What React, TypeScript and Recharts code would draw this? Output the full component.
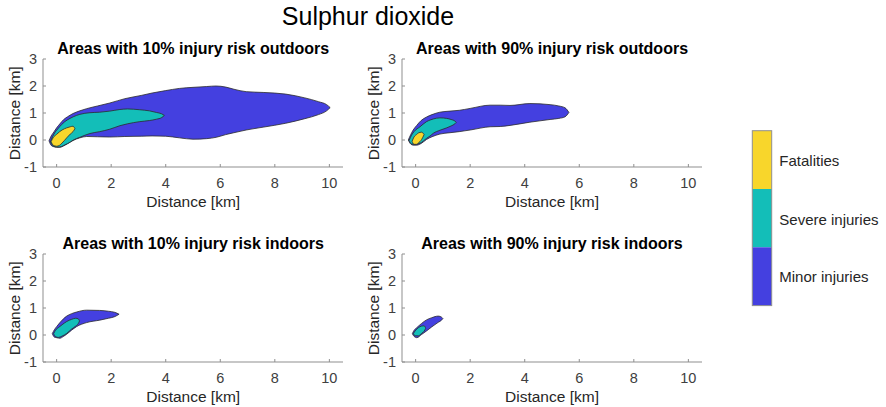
import React from 'react';
import { ComposedChart, Area, XAxis, YAxis } from 'recharts';

// ---- categories / ticks ----
const xTicks = [0, 2, 4, 6, 8, 10];
const yTicks = [-1, 0, 1, 2, 3];
const legendLabels = ['Fatalities', 'Severe injuries', 'Minor injuries'];
const panelTitles = [
  'Areas with 10% injury risk outdoors',
  'Areas with 90% injury risk outdoors',
  'Areas with 10% injury risk indoors',
  'Areas with 90% injury risk indoors',
];

// ---- series: [x, lower edge, upper edge] in km ----
const tlMinor = [
  [-0.28, -0.03, -0.03], [-0.2, -0.2, 0.15], [-0.1, -0.25, 0.3], [0, -0.27, 0.45],
  [0.12, -0.27, 0.6], [0.25, -0.22, 0.75], [0.4, -0.14, 0.86], [0.6, -0.02, 0.98],
  [0.85, 0.08, 1.08], [1.1, 0.13, 1.16], [1.5, 0.12, 1.26], [1.95, 0.11, 1.37],
  [2.5, 0.13, 1.53], [3.1, 0.14, 1.65], [3.5, 0.15, 1.74], [4.0, 0.14, 1.83],
  [4.5, 0.08, 1.91], [5.0, 0.03, 1.95], [5.5, 0.05, 1.98], [5.85, 0.1, 2.0],
  [6.2, 0.2, 1.96], [6.5, 0.27, 1.88], [6.95, 0.37, 1.79], [7.6, 0.48, 1.76],
  [8.4, 0.62, 1.7], [9.1, 0.79, 1.56], [9.6, 0.94, 1.42], [9.9, 1.08, 1.31],
  [10.03, 1.2, 1.2],
];
const tlSevere = [
  [-0.23, -0.07, -0.07], [-0.15, -0.2, 0.12], [-0.05, -0.25, 0.3], [0.05, -0.26, 0.42],
  [0.18, -0.24, 0.57], [0.3, -0.18, 0.68], [0.49, -0.08, 0.8], [0.61, 0.0, 0.86],
  [0.85, 0.1, 0.95], [1.22, 0.24, 1.01], [1.58, 0.31, 1.03], [1.95, 0.4, 1.07],
  [2.32, 0.53, 1.13], [2.6, 0.6, 1.15], [3.05, 0.68, 1.12], [3.4, 0.72, 1.08],
  [3.66, 0.77, 1.02], [3.85, 0.83, 0.97], [3.95, 0.91, 0.91],
];
const tlFatal = [
  [-0.2, -0.06, -0.06], [-0.13, -0.19, 0.08], [0, -0.23, 0.21], [0.1, -0.2, 0.3],
  [0.2, -0.11, 0.37], [0.37, 0.08, 0.45], [0.5, 0.22, 0.49], [0.6, 0.31, 0.51],
  [0.67, 0.42, 0.42],
];

const trMinor = [
  [-0.27, 0.0, 0.0], [-0.18, -0.15, 0.2], [-0.09, -0.19, 0.37], [0.04, -0.19, 0.54],
  [0.2, -0.13, 0.72], [0.4, 0.02, 0.85], [0.6, 0.12, 0.94], [0.89, 0.22, 1.03],
  [1.26, 0.27, 1.07], [1.6, 0.31, 1.1], [2.0, 0.37, 1.17], [2.73, 0.49, 1.29],
  [3.1, 0.5, 1.29], [3.46, 0.54, 1.28], [4.19, 0.66, 1.35], [4.93, 0.76, 1.31],
  [5.25, 0.8, 1.26], [5.48, 0.86, 1.19], [5.62, 1.02, 1.02],
];
const trSevere = [
  [-0.24, -0.02, -0.02], [-0.15, -0.15, 0.18], [-0.05, -0.16, 0.32], [0.16, -0.12, 0.49],
  [0.4, 0.06, 0.68], [0.53, 0.15, 0.74], [0.65, 0.25, 0.78], [0.89, 0.36, 0.82],
  [1.14, 0.45, 0.8], [1.3, 0.52, 0.76], [1.44, 0.6, 0.7], [1.49, 0.65, 0.65],
];
const trFatal = [
  [-0.13, -0.05, -0.05], [-0.06, -0.16, 0.11], [0.03, -0.16, 0.2], [0.1, -0.11, 0.26],
  [0.22, 0.02, 0.29], [0.31, 0.2, 0.2],
];

const blMinor = [
  [-0.16, 0.05, 0.05], [-0.08, -0.08, 0.2], [0, -0.1, 0.31], [0.12, -0.12, 0.46],
  [0.24, -0.06, 0.59], [0.37, 0.03, 0.7], [0.55, 0.18, 0.79], [0.73, 0.31, 0.85],
  [1.1, 0.46, 0.92], [1.58, 0.55, 0.91], [1.9, 0.62, 0.88], [2.13, 0.68, 0.84],
  [2.29, 0.77, 0.77],
];
const blSevere = [
  [-0.11, 0.05, 0.05], [-0.04, -0.06, 0.18], [0.06, -0.09, 0.27], [0.2, -0.04, 0.38],
  [0.37, 0.06, 0.5], [0.55, 0.22, 0.58], [0.7, 0.33, 0.62], [0.79, 0.42, 0.6],
  [0.84, 0.52, 0.52],
];

const brMinor = [
  [-0.12, 0.05, 0.05], [-0.06, -0.05, 0.17], [0.04, -0.1, 0.27], [0.22, 0.02, 0.43],
  [0.4, 0.15, 0.56], [0.59, 0.3, 0.64], [0.83, 0.47, 0.7], [0.95, 0.55, 0.66],
  [1.0, 0.61, 0.61],
];
const brSevere = [
  [-0.08, 0.06, 0.06], [-0.02, -0.03, 0.15], [0.1, -0.03, 0.27], [0.22, 0.06, 0.33],
  [0.31, 0.14, 0.34], [0.37, 0.25, 0.25],
];

// ---- styling ----
const COLORS = { fatal: '#F8D62B', severe: '#13BEB8', minor: '#4440E0' };
const AXIS_COLOR = '#8f8f8f';
const TEXT_COLOR = '#262626';
const TICK_COLOR = '#404040';
const FONT = '"Liberation Sans", Arial, Helvetica, sans-serif';

type Row = { x: number; lo: number; hi: number };
const toRows = (rows: number[][]): Row[] => rows.map(([x, lo, hi]) => ({ x, lo, hi }));

type Layer = { rows: number[][]; color: string };

const PW = 300;
const PH = 108;
const YW = 43;
const XH = 30;
const MT = 12;
const MR = 6;

const tickStyle = { fill: TICK_COLOR, fontSize: 14.5, fontFamily: FONT };

function Panel({ left, top, layers }: { left: number; top: number; layers: Layer[] }) {
  return (
    <div style={{ position: 'absolute', left: left - YW, top: top - MT }}>
      <ComposedChart
        width={YW + PW + MR}
        height={MT + PH + XH}
        margin={{ top: MT, right: MR, bottom: 0, left: 0 }}
        style={{ fontSize: 14.5, fontFamily: FONT }}
      >
        <XAxis
          dataKey="x"
          type="number"
          domain={[-0.5, 10.5]}
          ticks={xTicks}
          interval={0}
          allowDataOverflow
          height={XH}
          stroke={AXIS_COLOR}
          tickSize={-3}
          tickMargin={14}
          fontSize={14.5}
          tick={tickStyle}
        />
        <XAxis
          xAxisId="top"
          orientation="top"
          type="number"
          domain={[-0.5, 10.5]}
          ticks={xTicks}
          interval={0}
          allowDataOverflow
          height={0}
          stroke={AXIS_COLOR}
          tickSize={-3}
          tick={false}
        />
        <YAxis
          type="number"
          domain={[-1, 3]}
          ticks={yTicks}
          interval={0}
          allowDataOverflow
          width={YW}
          stroke={AXIS_COLOR}
          tickSize={-3}
          tickMargin={9}
          fontSize={14.5}
          tick={tickStyle}
        />
        <YAxis
          yAxisId="right"
          orientation="right"
          type="number"
          domain={[-1, 3]}
          ticks={yTicks}
          interval={0}
          allowDataOverflow
          width={0}
          stroke={AXIS_COLOR}
          tickSize={-3}
          tick={false}
        />
        {layers.map((l, i) => (
          <Area
            key={i}
            data={toRows(l.rows)}
            dataKey={(d: Row) => [d.lo, d.hi]}
            type="monotone"
            fill={l.color}
            fillOpacity={1}
            stroke="#2b2b2b"
            strokeWidth={0.8}
            isAnimationActive={false}
            dot={false}
            activeDot={false}
          />
        ))}
      </ComposedChart>
    </div>
  );
}

const panels = [
  { left: 43.2, top: 59.3, layers: [
    { rows: tlMinor, color: COLORS.minor },
    { rows: tlSevere, color: COLORS.severe },
    { rows: tlFatal, color: COLORS.fatal },
  ] },
  { left: 402, top: 59.3, layers: [
    { rows: trMinor, color: COLORS.minor },
    { rows: trSevere, color: COLORS.severe },
    { rows: trFatal, color: COLORS.fatal },
  ] },
  { left: 43.2, top: 254.3, layers: [
    { rows: blMinor, color: COLORS.minor },
    { rows: blSevere, color: COLORS.severe },
  ] },
  { left: 402, top: 254.3, layers: [
    { rows: brMinor, color: COLORS.minor },
    { rows: brSevere, color: COLORS.severe },
  ] },
];

export default function App() {
  const legendColors = [COLORS.fatal, COLORS.severe, COLORS.minor];
  const legTop = 130.7;
  const legH = 58.3;
  return (
    <div style={{ position: 'absolute', left: 0, top: 0, width: 886, height: 407, background: '#fff', fontFamily: FONT }}>
      {panels.map((p, i) => (
        <Panel key={i} left={p.left} top={p.top} layers={p.layers} />
      ))}
      <svg width={886} height={407} style={{ position: 'absolute', left: 0, top: 0, pointerEvents: 'none' }}>
        <text x={368} y={25} textAnchor="middle" fontSize={25} fill="#000" fontFamily={FONT}>
          Sulphur dioxide
        </text>
        {panels.map((p, i) => {
          const cx = p.left + PW / 2;
          const cy = p.top + PH / 2;
          const lx = p.left - 28.8 + 5.5;
          return (
            <g key={i}>
              <text x={cx} y={p.top - 11 + 5.7} textAnchor="middle" fontSize={16} fontWeight="bold" fill="#000" fontFamily={FONT}>
                {panelTitles[i]}
              </text>
              <text x={cx} y={p.top + PH + 34 + 5.5} textAnchor="middle" fontSize={15.5} fill={TEXT_COLOR} fontFamily={FONT}>
                Distance [km]
              </text>
              <text
                x={lx}
                y={cy}
                textAnchor="middle"
                fontSize={15.5}
                fill={TEXT_COLOR}
                fontFamily={FONT}
                transform={`rotate(-90, ${lx}, ${cy})`}
              >
                Distance [km]
              </text>
            </g>
          );
        })}
        {legendColors.map((c, i) => (
          <rect key={i} x={752.3} y={legTop + i * legH} width={19.4} height={legH} fill={c} />
        ))}
        <rect x={752.3} y={legTop} width={19.4} height={legH * 3} fill="none" stroke={AXIS_COLOR} strokeWidth={1} />
        {legendLabels.map((t, i) => (
          <text key={t} x={779.3} y={[160.7, 220, 276.7][i] + 5.4} fontSize={15} fill={TEXT_COLOR} fontFamily={FONT}>
            {t}
          </text>
        ))}
      </svg>
    </div>
  );
}
